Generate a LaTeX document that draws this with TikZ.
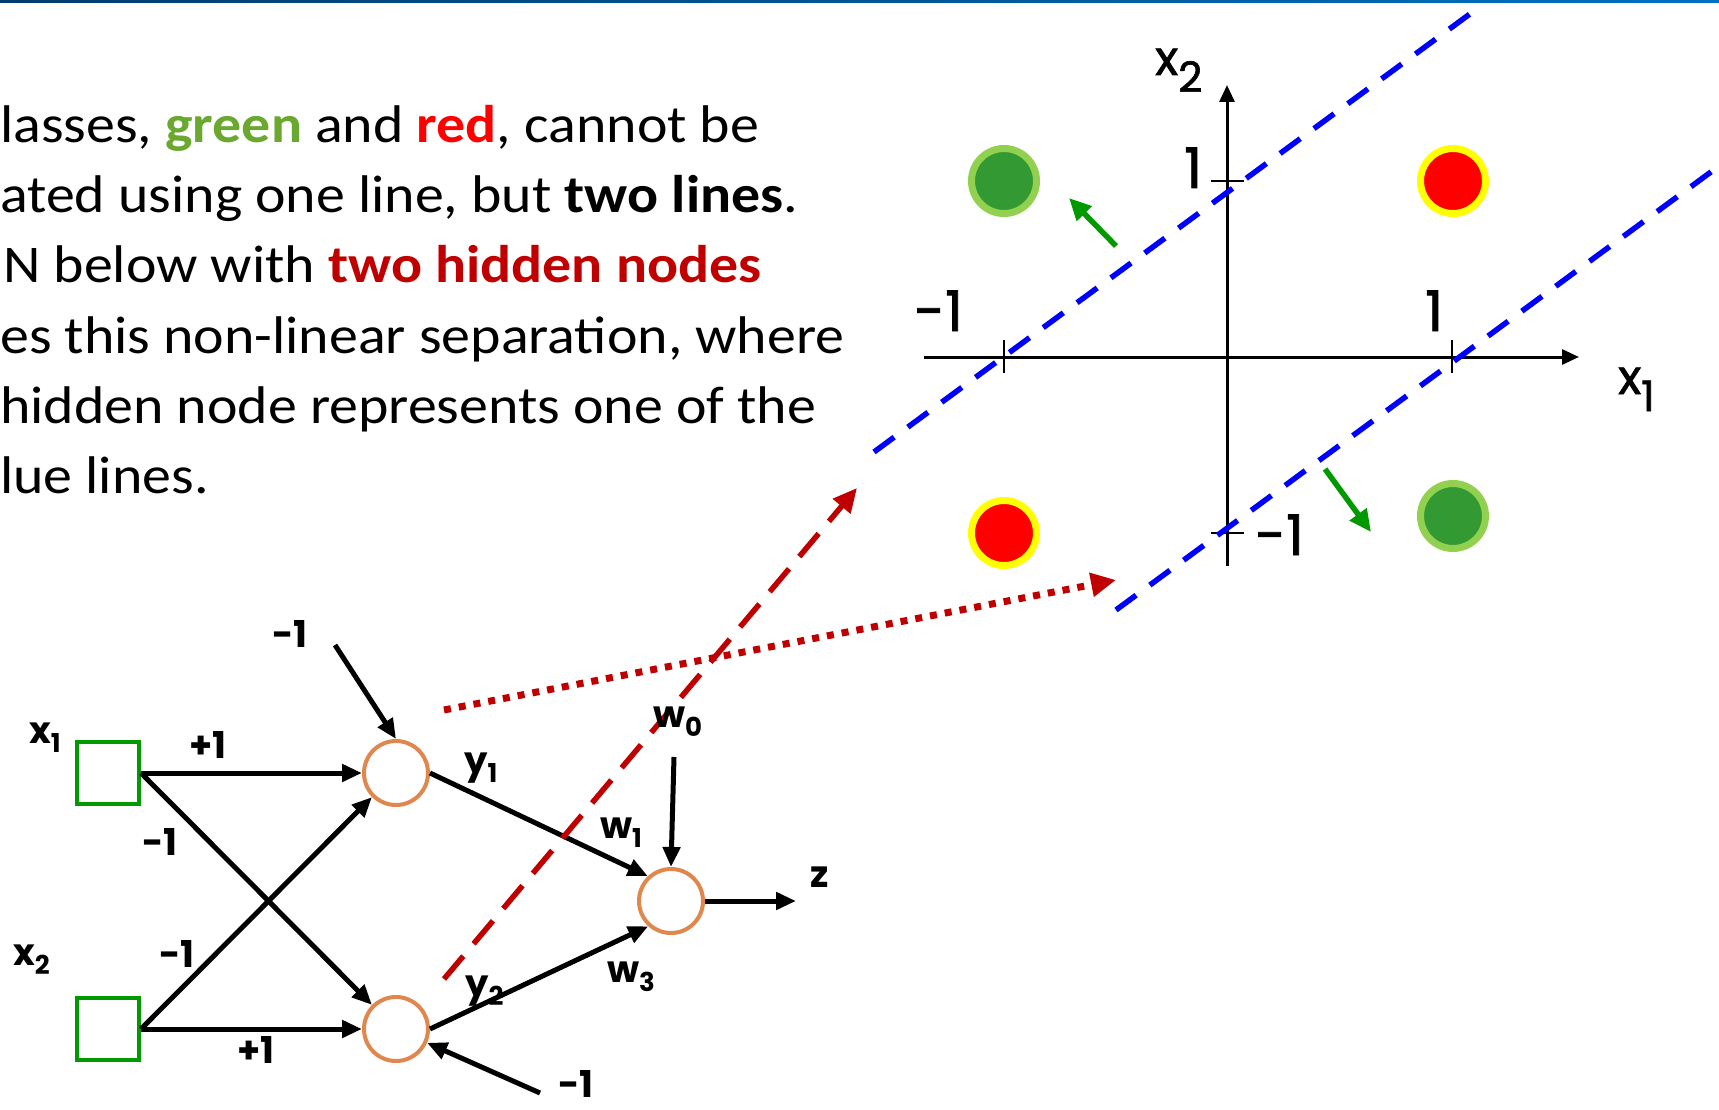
\documentclass[tikz,border=0pt]{standalone}
\usepackage{fontspec}
\setmainfont{Carlito}[FakeStretch=1.092]
\newfontfamily\gothic{Poppins}
\newfontfamily\gothicplot{Poppins}[FakeBold=1.5]
\usetikzlibrary{arrows.meta}
\definecolor{txtgreen}{RGB}{106,168,48}
\definecolor{txtred}{RGB}{255,0,0}
\definecolor{darkred}{RGB}{192,0,0}
\definecolor{boxgreen}{RGB}{0,153,0}
\definecolor{nodeorange}{RGB}{224,135,77}
\definecolor{ringgreen}{RGB}{146,208,80}
\definecolor{fillgreen}{RGB}{51,153,51}
\definecolor{ringyellow}{RGB}{255,255,0}
\definecolor{linblue}{RGB}{0,0,255}
\definecolor{arrowgreen}{RGB}{0,153,0}
\definecolor{headleft}{RGB}{0,60,110}
\definecolor{headright}{RGB}{0,112,192}
\newcommand\lsub[1]{\raisebox{-9pt}{\fontsize{26}{26}\selectfont #1}}
\newcommand\psub[1]{\raisebox{-17pt}{\fontsize{42}{42}\selectfont #1}}
\begin{document}
\begin{tikzpicture}[x=1pt,y=-1pt,
  body/.style={anchor=base west, inner sep=0pt, font=\fontsize{53}{64}\selectfont},
  inbox/.style={draw=boxgreen, line width=4pt, minimum size=62pt, inner sep=0pt},
  neuron/.style={draw=nodeorange, circle, line width=4pt, minimum size=64pt, inner sep=0pt},
  lab/.style={anchor=base west, inner sep=0pt, font=\gothic\bfseries\fontsize{37}{37}\selectfont},
  plab/.style={anchor=base west, inner sep=0pt, font=\gothicplot\fontsize{56}{56}\selectfont},
  xlab/.style={anchor=base west, inner sep=0pt, font=\gothicplot\fontsize{48}{48}\selectfont},
  conn/.style={line width=5pt, -{Triangle[length=20pt,width=17pt]}},
  axis/.style={line width=3pt, -{Triangle[length=17pt,width=15pt]}},
  tick/.style={line width=1.5pt},
  sep/.style={linblue, line width=5.5pt, dash pattern=on 25pt off 17pt},
  garrow/.style={arrowgreen, line width=5.5pt, -{Triangle[length=22pt,width=20pt]}},
  gdot/.style={circle, fill=fillgreen, draw=ringgreen, line width=7pt, minimum size=65pt, inner sep=0pt},
  rdot/.style={circle, fill=txtred, draw=ringyellow, line width=7pt, minimum size=65pt, inner sep=0pt},
  rdash/.style={darkred, line width=5.5pt, dash pattern=on 30pt off 16pt, -{Triangle[length=24pt,width=22pt]}},
  rdotted/.style={darkred, line width=7pt, dash pattern=on 7pt off 8pt, -{Triangle[length=25pt,width=23pt]}}
]
\useasboundingbox (0,0) rectangle (1719,1110);
\fill[white] (0,0) rectangle (1719,1110);
\shade[left color=headleft, right color=headright] (0,0) rectangle (1719,2.5);

% body text
\node[body] (t1) at (0,143) {lasses, \textbf{\color{txtgreen}green} and \textbf{\color{txtred}red}, cannot be};
\node[body] (t2) at (0,213) {ated using one line, but \textbf{two lines}.};
\node[body] (t3) at (3,283) {N below with \textbf{\color{darkred}two hidden nodes}};
\node[body] (t4) at (0,353) {es this non-linear separation, where};
\node[body] (t5) at (0,423) {hidden node represents one of the};
\node[body] (t6) at (0,493) {lue lines.};

% plot
\coordinate (o) at (1227,357);
\coordinate (xs) at (924,357);
\coordinate (xe) at (1579,357);
\coordinate (ys) at (1227,566);
\coordinate (ye) at (1227,85);
\draw[axis] (xs) -- (xe);
\draw[axis] (ys) -- (ye);
\draw[tick] (1004,340) -- (1004,373);
\draw[tick] (1452,340) -- (1452,373);
\draw[tick] (1211,181) -- (1244,181);
\draw[tick] (1211,533) -- (1244,533);

\node[xlab] (lx2) at (1155,75) {x\psub{2}};
\node[xlab] (lx1) at (1618,394) {x\psub{1}};
\node[plab] (lm1) at (914,331) {-1};
\node[plab] (lp1) at (1425,331) {1};
\node[plab] (ly1) at (1184,188) {1};
\node[plab] (lym1) at (1255,555) {-1};

\node[gdot] (g1) at (1004,181) {};
\node[rdot] (r1) at (1453,181) {};
\node[rdot] (r2) at (1004,533) {};
\node[gdot] (g2) at (1453,516) {};

\coordinate (a1) at (874,452);
\coordinate (a2) at (1478,8);
\coordinate (b1) at (1116,610);
\coordinate (b2) at (1719,166);
\draw[sep] (a1) -- (a2);
\draw[sep] (b1) -- (b2);

\coordinate (ga1) at (1116,246);
\coordinate (ga2) at (1069,198);
\coordinate (gb1) at (1325,469);
\coordinate (gb2) at (1371,532);
\draw[garrow] (ga1) -- (ga2);
\draw[garrow] (gb1) -- (gb2);

% network
\node[inbox] (in1) at (108,773) {};
\node[inbox] (in2) at (108,1029) {};
\node[neuron] (h1) at (396,773) {};
\node[neuron] (h2) at (396,1029) {};
\node[neuron] (out) at (671,901) {};
\coordinate (bt) at (335,645);
\coordinate (bb) at (540,1093);
\coordinate (w0s) at (674,757);
\coordinate (zend) at (796,901);

\draw[conn] (in1.east) -- (h1.west);
\draw[conn] (in1.east) -- (h2);
\draw[conn] (in2.east) -- (h1);
\draw[conn] (in2.east) -- (h2.west);
\draw[conn] (bt) -- (h1.north);
\draw[conn] (bb) -- (h2);
\draw[conn] (h1.east) -- (out.133);
\draw[conn] (h2.east) -- (out.228);
\draw[conn] (w0s) -- (out.north);
\draw[conn] (out.east) -- (zend);

\node[lab] (lbx1) at (29,743) {x\lsub{1}};
\node[lab] (lbx2) at (13,965) {x\lsub{2}};
\node[lab] (lbt) at (272,647) {-1};
\node[lab] (lp1a) at (189,758) {+1};
\node[lab] (lm1a) at (142,855) {-1};
\node[lab] (lm1b) at (159,967) {-1};
\node[lab] (lp1b) at (237,1063) {+1};
\node[lab] (lbb) at (558,1097) {-1};
\node[lab] (lby1) at (464,773) {y\lsub{1}};
\node[lab] (lby2) at (465,996) {y\lsub{2}};
\node[lab] (lw1) at (600,838) {w\lsub{1}};
\node[lab] (lw3) at (607,982) {w\lsub{3}};
\node[lab] (lz) at (810,887) {z};

% red connectors
\coordinate (rd1) at (444,979);
\coordinate (rd2) at (857,488);
\coordinate (ro1) at (444,710);
\coordinate (ro2) at (1116,580);
\draw[rdash] (rd1) -- (rd2);
\draw[rdotted] (ro1) -- (ro2);
\node[lab] (lw0) at (653,727) {w\lsub{0}};
\end{tikzpicture}
\end{document}
